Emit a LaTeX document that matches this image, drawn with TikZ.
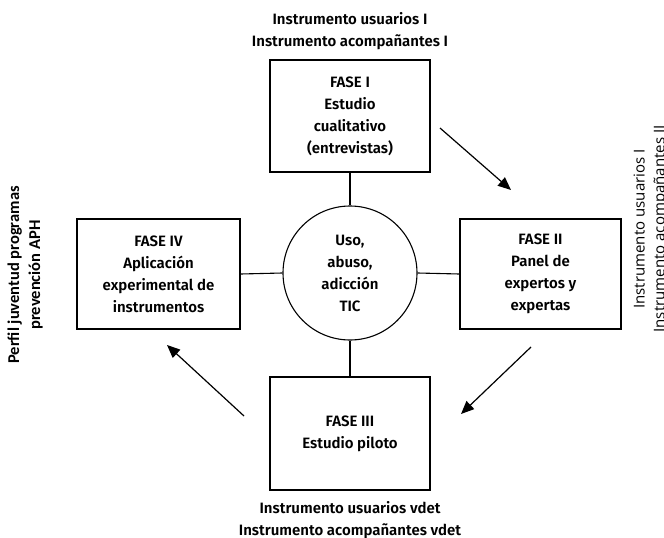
\documentclass[tikz,border=0pt]{standalone}
\usepackage{fontspec}
\setmainfont{Fira Sans}[UprightFont={* SemiBold}]
\newfontfamily\carl{Carlito}
\newfontfamily\opens{Open Sans}
\usetikzlibrary{arrows.meta}
\begin{document}
\begin{tikzpicture}[x=1pt,y=-1pt,
  phase/.style={draw, line width=1.1pt, align=center, inner sep=0pt,
    font=\fontsize{15}{22}\selectfont},
  lbl/.style={align=center, font=\fontsize{15}{22}\selectfont},
  conn/.style={line width=1.1pt},
  flow/.style={line width=1.2pt, -{Triangle[length=13pt,width=11pt]}}]
\useasboundingbox (0,0) rectangle (664,538);
\node[phase, minimum width=160pt, minimum height=112pt] (f1) at (350,116) {FASE I\\Estudio\\cualitativo\\(entrevistas)};
\node[phase, minimum width=161pt, minimum height=110pt] (f2) at (540.5,274) {FASE II\\Panel de\\expertos y\\expertas};
\node[phase, minimum width=160pt, minimum height=113pt] (f3) at (350,433.5) {FASE III\\Estudio piloto};
\node[phase, minimum width=163pt, minimum height=110pt] (f4) at (158.5,274) {FASE IV\\Aplicación\\experimental de\\instrumentos};
\node[draw, circle, line width=1.1pt, minimum size=134pt, inner sep=0pt, align=center,
  font=\fontsize{15}{22}\selectfont] (c) at (350,273) {Uso,\\abuso,\\adicción\\TIC};
\draw[conn] (f1.south) -- (c.north);
\draw[conn] (c.south) -- (f3.north);
\draw[conn] (c.east) -- (f2.west);
\draw[conn] (f4.east) -- (c.west);
\node[lbl] (t1) at (350,31) {Instrumento usuarios I\\Instrumento acompañantes I};
\node[lbl] (t3) at (350,520) {Instrumento usuarios vdet\\Instrumento acompañantes vdet};
\node[align=center, rotate=90, font=\carl\bfseries\fontsize{16.5}{21}\selectfont] (t4) at (25,275) {Perfil juventud programas\\prevención APH};
\node[align=center, rotate=90, font=\opens\fontsize{15}{20}\selectfont] (t2) at (651,229) {Instrumento usuarios I\\Instrumento acompañantes II};
\coordinate (a1s) at (440,128);
\coordinate (a1e) at (511,190);
\coordinate (a2s) at (531,347);
\coordinate (a2e) at (461,414);
\coordinate (a3s) at (244,416);
\coordinate (a3e) at (167,345);
\draw[flow] (a1s) -- (a1e);
\draw[flow] (a2s) -- (a2e);
\draw[flow] (a3s) -- (a3e);
\end{tikzpicture}
\end{document}
